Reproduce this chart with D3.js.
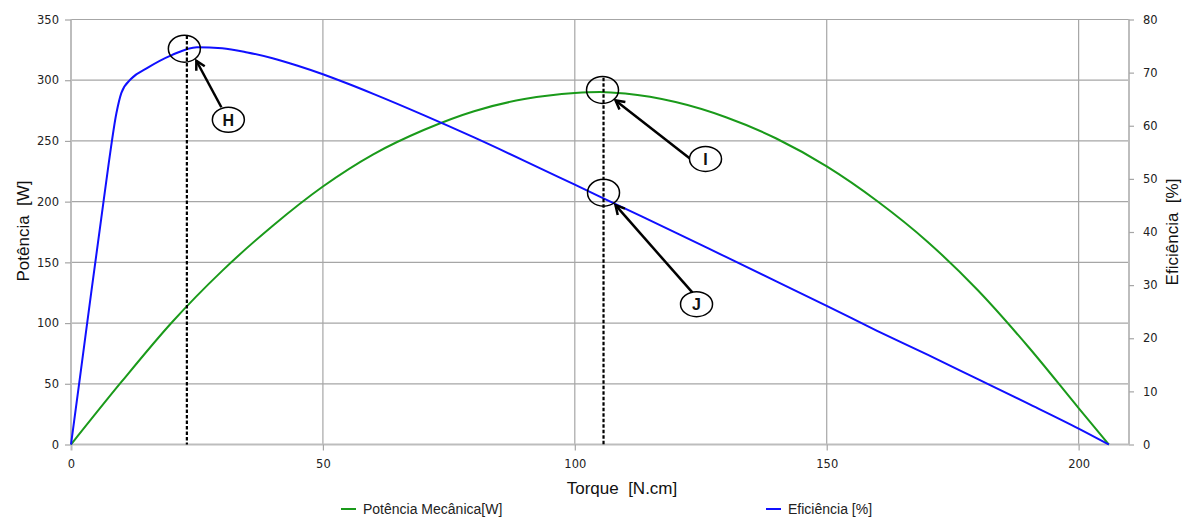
<!DOCTYPE html>
<html>
<head>
<meta charset="utf-8">
<script src="https://cdn.jsdelivr.net/npm/d3@7"></script>
<style>
  html, body { margin: 0; padding: 0; background: #fff; }
  svg { display: block; }
  text { white-space: pre; }
</style>
</head>
<body>
<svg id="chart" width="1193" height="518"></svg>
<script>
// ---- Data ----
const torqueP = [0, 10, 20, 30, 40, 50, 60, 70, 80, 90, 100, 105, 110, 120, 130, 140, 150, 160, 170, 180, 190, 200, 206];
const powerW  = [0, 51.5, 100.5, 143, 180, 212.5, 239, 259, 274.5, 284.5, 289.5, 290.3, 289, 282, 269.5, 252, 229, 200.5, 167, 127, 80.5, 30, 0];

const torqueE = [0, 2, 4, 6, 7.5, 9, 10, 12, 15, 20, 25, 30, 35, 40, 45, 50, 55, 60, 70, 80, 90, 100, 110, 120, 130, 140, 150, 160, 170, 180, 190, 200, 206];
const effPct  = [0, 14.2, 28.5, 42.5, 53, 62.3, 66.2, 68.9, 70.8, 73.3, 74.8, 74.6, 73.8, 72.7, 71.3, 69.7, 67.9, 66.0, 62.0, 57.8, 53.4, 48.9, 44.4, 39.9, 35.3, 30.7, 26.1, 21.4, 16.9, 12.3, 7.7, 3.0, 0];

const xTicks      = [0, 50, 100, 150, 200];
const yLeftTicks  = [0, 50, 100, 150, 200, 250, 300, 350];
const yRightTicks = [0, 10, 20, 30, 40, 50, 60, 70, 80];

const seriesNames = ["Potência Mecânica[W]", "Eficiência [%]"];
const seriesColors = ["#1a9a1a", "#1010ff"];

// annotations: letter, torque, value, which axis
const annoLetters = ["H", "I", "J"];
const annoTorque  = [22.5, 105.5, 105.7];
const annoValue   = [74.5, 292, 47.4];
const annoAxis    = ["E", "P", "E"];
const dashTorque  = [23, 105.7];
const dashTop     = [77, 302];   // in axis units of dashAxis
const dashAxis    = ["E", "P"];

// ---- Layout ----
const svg = d3.select("#chart");
const L = 71, R = 1129, T = 19.5, B = 444.5;

const x  = d3.scaleLinear().domain([0, 210]).range([L, R]);
const yP = d3.scaleLinear().domain([0, 350]).range([B, T]);
const yE = d3.scaleLinear().domain([0, 80]).range([B, T]);

const tickFont = "'DejaVu Sans', Verdana, sans-serif";
const titleFont = "'Liberation Sans', Arial, sans-serif";

// gridlines
svg.append("g").selectAll("line.h").data(yLeftTicks.filter(d => d > 0)).join("line")
  .attr("x1", L).attr("x2", R).attr("y1", d => yP(d)).attr("y2", d => yP(d))
  .attr("stroke", "#a6a6a6").attr("stroke-width", 1.2);
svg.append("g").selectAll("line.v").data(xTicks.filter(d => d > 0)).join("line")
  .attr("x1", d => x(d)).attr("x2", d => x(d)).attr("y1", T).attr("y2", B)
  .attr("stroke", "#a6a6a6").attr("stroke-width", 1.2);

// axes
const axLeft = d3.axisLeft(yP).tickValues(yLeftTicks).tickSize(6).tickPadding(6);
const gL = svg.append("g").attr("transform", `translate(${L},0)`).call(axLeft);
const axBottom = d3.axisBottom(x).tickValues(xTicks).tickSize(6).tickPadding(9);
const gB = svg.append("g").attr("transform", `translate(0,${B})`).call(axBottom);
const axRight = d3.axisRight(yE).tickValues(yRightTicks).tickSize(5).tickPadding(9);
const gR = svg.append("g").attr("transform", `translate(${R},0)`).call(axRight);

[gL, gB, gR].forEach(g => {
  g.select(".domain").attr("stroke", "#bdbdbd").attr("stroke-width", 2);
  g.selectAll(".tick line").attr("stroke", "#a6a6a6").attr("stroke-width", 1.2);
  g.selectAll(".tick text").attr("font-family", tickFont).attr("font-size", 11.5).attr("fill", "#222");
});
gL.select(".domain").attr("d", `M0,${T}V${B}`);
gR.select(".domain").attr("d", `M0,${T}V${B}`);
gB.select(".domain").attr("d", `M${L},0H${R}`);
gB.selectAll(".tick line").filter(d => d === 0).attr("stroke", "#bdbdbd").attr("stroke-width", 2);

// series lines
const lineP = d3.line().x(d => x(d[0])).y(d => yP(d[1])).curve(d3.curveMonotoneX);
const lineE = d3.line().x(d => x(d[0])).y(d => yE(d[1])).curve(d3.curveMonotoneX);
svg.append("path").datum(d3.zip(torqueP, powerW)).attr("d", lineP)
  .attr("fill", "none").attr("stroke", seriesColors[0]).attr("stroke-width", 2);
svg.append("path").datum(d3.zip(torqueE, effPct)).attr("d", lineE)
  .attr("fill", "none").attr("stroke", seriesColors[1]).attr("stroke-width", 2);

// dashed verticals
dashTorque.forEach((t, i) => {
  const yTop = dashAxis[i] === "E" ? yE(dashTop[i]) : yP(dashTop[i]);
  svg.append("line").attr("x1", x(t)).attr("x2", x(t)).attr("y1", yTop).attr("y2", B)
    .attr("stroke", "#000").attr("stroke-width", 2.2).attr("stroke-dasharray", "3.5,2");
});

// annotations
const labelOffset = [[44, 71], [103, 69], [93, 111.5]];
const arrowStartRel = [[-7, -12.5], [-15, 0], [-4, -11.5]];
const arrowTipRel = [[12, 12], [13, 10.5], [12, 12.5]];
annoLetters.forEach((letter, i) => {
  const cx = x(annoTorque[i]);
  const cy = annoAxis[i] === "E" ? yE(annoValue[i]) : yP(annoValue[i]);
  svg.append("ellipse").attr("cx", cx).attr("cy", cy).attr("rx", 16).attr("ry", 13.5)
    .attr("fill", "none").attr("stroke", "#000").attr("stroke-width", 1.5);
  const lx = cx + labelOffset[i][0], ly = cy + labelOffset[i][1];
  const sx = lx + arrowStartRel[i][0], sy = ly + arrowStartRel[i][1];
  const tx = cx + arrowTipRel[i][0], ty = cy + arrowTipRel[i][1];
  svg.append("line").attr("x1", sx).attr("y1", sy).attr("x2", tx).attr("y2", ty)
    .attr("stroke", "#000").attr("stroke-width", 2.5);
  const ang = Math.atan2(ty - sy, tx - sx);
  const hl = 10, ha = 0.5;
  const p1 = [tx - hl * Math.cos(ang - ha), ty - hl * Math.sin(ang - ha)];
  const p2 = [tx - hl * Math.cos(ang + ha), ty - hl * Math.sin(ang + ha)];
  svg.append("path").attr("d", `M${p1[0]},${p1[1]}L${tx},${ty}L${p2[0]},${p2[1]}`)
    .attr("fill", "none").attr("stroke", "#000").attr("stroke-width", 2.5);
  svg.append("ellipse").attr("cx", lx).attr("cy", ly).attr("rx", 16).attr("ry", 12.5)
    .attr("fill", "#fff").attr("stroke", "#000").attr("stroke-width", 1.5);
  svg.append("text").attr("x", lx).attr("y", ly + 6).attr("text-anchor", "middle")
    .attr("font-family", titleFont).attr("font-size", 16).attr("font-weight", "bold")
    .attr("fill", "#111").text(letter);
});

// axis titles
svg.append("text").attr("x", 622).attr("y", 494).attr("text-anchor", "middle")
  .attr("font-family", titleFont).attr("font-size", 17).attr("fill", "#111")
  .text("Torque  [N.cm]");
svg.append("text").attr("transform", "translate(29,231) rotate(-90)").attr("text-anchor", "middle")
  .attr("font-family", titleFont).attr("font-size", 17).attr("fill", "#111")
  .text("Potência  [W]");
svg.append("text").attr("transform", "translate(1178,232) rotate(-90)").attr("text-anchor", "middle")
  .attr("font-family", titleFont).attr("font-size", 17).attr("fill", "#111")
  .text("Eficiência  [%]");

// legend
const legX = [341, 766];
seriesNames.forEach((name, i) => {
  svg.append("line").attr("x1", legX[i]).attr("x2", legX[i] + 15).attr("y1", 509).attr("y2", 509)
    .attr("stroke", seriesColors[i]).attr("stroke-width", 2);
  svg.append("text").attr("x", legX[i] + 22).attr("y", 514)
    .attr("font-family", titleFont).attr("font-size", 14).attr("fill", "#222").text(name);
});
</script>
</body>
</html>
